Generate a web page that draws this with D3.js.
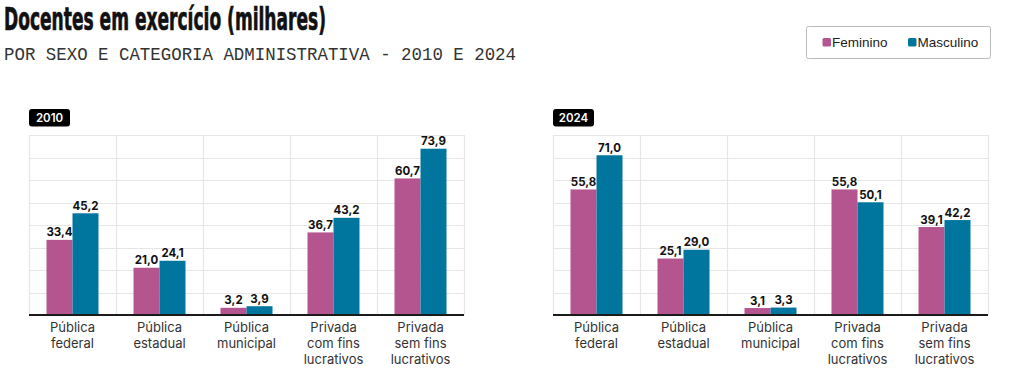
<!DOCTYPE html>
<html><head><meta charset="utf-8">
<script src="https://cdn.jsdelivr.net/npm/d3@7"></script>
<style>body{margin:0;background:#fff}svg{display:block}</style>
</head><body>
<svg id="c" width="1024" height="377"></svg>
<script>
const categories = ["Pública\nfederal","Pública\nestadual","Pública\nmunicipal","Privada\ncom fins\nlucrativos","Privada\nsem fins\nlucrativos"];
const seriesNames = ["Feminino","Masculino"];
const years = ["2010","2024"];
const fem2010 = [33.4,21.0,3.2,36.7,60.7];
const masc2010 = [45.2,24.1,3.9,43.2,73.9];
const fem2024 = [55.8,25.1,3.1,55.8,39.1];
const masc2024 = [71.0,29.0,3.3,50.1,42.2];
const yTicks = [0,10,20,30,40,50,60,70,80];
const colors = ["#b5558f","#00769f"];

const svg = d3.select("#c");
svg.append("text").attr("x",4).attr("y",30)
  .attr("font-family","'Liberation Sans Narrow','DejaVu Sans Condensed',sans-serif")
  .attr("font-weight",700).attr("font-size",32).attr("fill","#111")
  .attr("stroke","#111").attr("stroke-width",0.7)
  .attr("textLength",322).attr("lengthAdjust","spacingAndGlyphs")
  .text("Docentes em exercício (milhares)");
svg.append("text").attr("x",4).attr("y",59.5)
  .attr("font-family","'Liberation Mono','DejaVu Sans Mono',monospace")
  .attr("font-size",19).attr("fill","#333")
  .attr("textLength",512).attr("lengthAdjust","spacingAndGlyphs")
  .text("POR SEXO E CATEGORIA ADMINISTRATIVA - 2010 E 2024");

// legend
const lg = svg.append("g");
lg.append("rect").attr("x",806.5).attr("y",26.5).attr("width",184).attr("height",32)
  .attr("rx",2).attr("fill","#fff").attr("stroke","#bbb");
const lx = [822.5, 908];
seriesNames.forEach((s,i)=>{
  lg.append("rect").attr("x",lx[i]).attr("y",38).attr("width",8.5).attr("height",8.5).attr("rx",1.5).attr("fill",colors[i]);
  lg.append("text").attr("x",lx[i]+9.5).attr("y",47).attr("font-family","'Liberation Sans',Arial,sans-serif")
    .attr("font-size",13.5).attr("fill","#222").text(s);
});

const panels = [
  {year:years[0], fem:fem2010, masc:masc2010, x0:29, x1:464},
  {year:years[1], fem:fem2024, masc:masc2024, x0:553, x1:988}
];
const yTop=135, yBase=315;
const y = d3.scaleLinear().domain([0,80]).range([yBase,yTop]);

panels.forEach(p=>{
  const g = svg.append("g");
  const x = d3.scaleBand().domain(categories).range([p.x0,p.x1]).padding(0);
  const bw = x.bandwidth();
  const xi = d3.scaleBand().domain(seriesNames).range([(bw-52)/2,(bw+52)/2]).padding(0);
  g.selectAll("line.h").data(yTicks.slice(1)).join("line")
    .attr("x1",p.x0).attr("x2",p.x1).attr("y1",d=>Math.round(y(d))+0.5).attr("y2",d=>Math.round(y(d))+0.5)
    .attr("stroke","#e6e6e6").attr("stroke-width",1.2);
  const vb = categories.map(c=>x(c)).concat([p.x1]);
  g.selectAll("line.v").data(vb).join("line")
    .attr("x1",d=>Math.round(d)+0.5).attr("x2",d=>Math.round(d)+0.5).attr("y1",yTop).attr("y2",yBase)
    .attr("stroke","#e6e6e6").attr("stroke-width",1.2);
  const rows = categories.map((c,i)=>({c, vals:[p.fem[i],p.masc[i]]}));
  const grp = g.selectAll("g.cat").data(rows).join("g").attr("transform",d=>`translate(${x(d.c)},0)`);
  grp.selectAll("rect").data(d=>d.vals.map((v,j)=>({v,s:seriesNames[j],j}))).join("rect")
    .attr("x",d=>xi(d.s)).attr("width",xi.bandwidth()).attr("y",d=>y(d.v)).attr("height",d=>yBase-y(d.v))
    .attr("fill",d=>colors[d.j]);
  grp.selectAll("text.val").data(d=>d.vals.map((v,j)=>({v,s:seriesNames[j],j}))).join("text")
    .attr("x",d=>xi(d.s)+xi.bandwidth()/2).attr("y",d=>y(d.v)-3.5).attr("text-anchor","middle")
    .attr("font-family","Inter,'Liberation Sans',sans-serif").attr("font-weight",700).attr("font-size",11.5)
    .attr("fill","#111").text(d=>d3.format(".1f")(d.v).replace(".",","));
  const ax = g.append("g").attr("transform",`translate(0,${yBase})`)
    .call(d3.axisBottom(x).tickSize(0).tickFormat(""));
  ax.select(".domain").attr("stroke","#1a1a1a").attr("stroke-width",2).attr("d",`M${p.x0},0H${p.x1}`);
  ax.selectAll(".tick").each(function(c){
    const t = d3.select(this).append("text").attr("fill","#333").attr("text-anchor","middle")
      .attr("font-family","Inter,'Liberation Sans',sans-serif").attr("font-size",13);
    c.split("\n").forEach((ln,k)=>t.append("tspan").attr("x",0).attr("y",16.5+k*16.3).text(ln));
  });
  g.append("rect").attr("x",p.x0).attr("y",109).attr("width",41).attr("height",17.5).attr("rx",3).attr("fill","#000");
  g.append("text").attr("x",p.x0+20.5).attr("y",122).attr("text-anchor","middle")
    .attr("font-family","Inter,'Liberation Sans',sans-serif").attr("font-weight",600).attr("font-size",11.5)
    .attr("fill","#fff").text(p.year);
});
</script>
</body></html>
